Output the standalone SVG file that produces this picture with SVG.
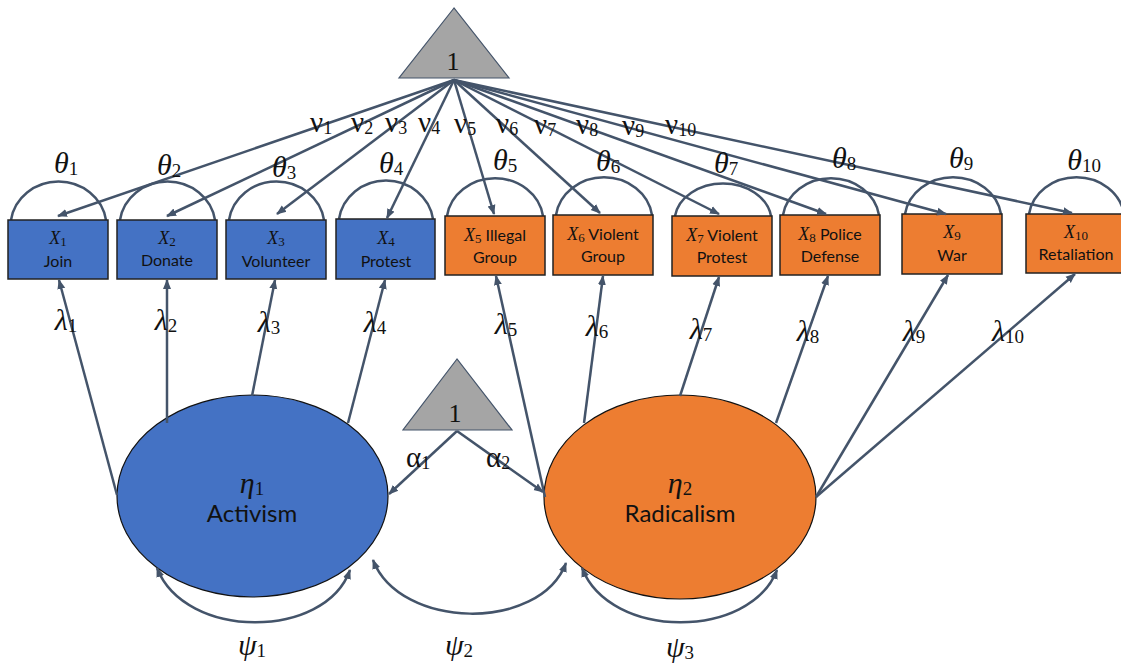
<svg xmlns="http://www.w3.org/2000/svg" width="1121" height="663" viewBox="0 0 1121 663">
<defs>
<style>
.conn{stroke:#44546a;stroke-width:2.5;fill:none;marker-end:url(#ah)}
.arc{stroke:#44546a;stroke-width:2.5;fill:none}
.psi{stroke:#44546a;stroke-width:2.5;fill:none;marker-start:url(#ah);marker-end:url(#ah)}
.bbox{stroke:#222;stroke-width:1.5}
.blue{fill:#4472c4}
.orange{fill:#ed7d31}
.tri{fill:#a5a5a5;stroke:#44546a;stroke-width:1.2}
.ell{stroke:#111;stroke-width:1.2}
.lbl{font-family:Lato,"Liberation Sans",sans-serif;font-size:16px;fill:#111;text-anchor:middle}
.xv{font-family:"Liberation Serif",serif;font-style:italic;font-size:18px}
.xs{font-family:"Liberation Serif",serif;font-style:normal;font-size:13px}
.gk{font-family:"Liberation Serif",serif;font-style:italic;font-size:30px;fill:#111;text-anchor:middle}
.sub{font-style:normal;font-size:19px}
.up{font-family:"Liberation Serif",serif;font-size:29px;fill:#111}
.us{font-size:18px}
.one{font-family:"Liberation Serif",serif;font-size:26px;fill:#111;text-anchor:middle}
.big{font-family:Lato,"Liberation Sans",sans-serif;font-size:24px;fill:#111;text-anchor:middle}
</style>
<marker id="ah" viewBox="0 0 10 10" refX="9" refY="5" markerWidth="10" markerHeight="10" markerUnits="userSpaceOnUse" orient="auto-start-reverse">
<path d="M0,1 L10,5 L0,9 z" fill="#44546a"/>
</marker>
</defs>
<rect width="1121" height="663" fill="#fff"/>

<g id="const_top">
<polygon class="tri" points="454,8 399,78 509,78"/>
<text class="one" x="453" y="70">1</text>
</g>
<g id="const_bottom">
<polygon class="tri" points="457,359 403,430 512,430"/>
<text class="one" x="455" y="422">1</text>
</g>

<g id="X1">
<path class="arc" d="M11,220 A48,45 0 0 1 106,220"/>
<rect class="bbox blue" x="8" y="220" width="100" height="59"/>
<text class="lbl" x="58" y="244"><tspan class="xv">X</tspan><tspan class="xs" dy="2">1</tspan></text>
<text class="lbl" x="58" y="267">Join</text>
</g>
<g id="X2">
<path class="arc" d="M120,220 A48,45 0 0 1 215,220"/>
<rect class="bbox blue" x="117" y="220" width="100" height="59"/>
<text class="lbl" x="167" y="244"><tspan class="xv">X</tspan><tspan class="xs" dy="2">2</tspan></text>
<text class="lbl" x="167" y="266">Donate</text>
</g>
<g id="X3">
<path class="arc" d="M229,220 A48,45 0 0 1 324,220"/>
<rect class="bbox blue" x="226" y="220" width="100" height="59"/>
<text class="lbl" x="276" y="244"><tspan class="xv">X</tspan><tspan class="xs" dy="2">3</tspan></text>
<text class="lbl" x="276" y="267">Volunteer</text>
</g>
<g id="X4">
<path class="arc" d="M339,219 A47.5,45 0 0 1 433,219"/>
<rect class="bbox blue" x="336" y="219" width="99" height="60"/>
<text class="lbl" x="386" y="244"><tspan class="xv">X</tspan><tspan class="xs" dy="2">4</tspan></text>
<text class="lbl" x="386" y="267">Protest</text>
</g>
<g id="X5">
<path class="arc" d="M447,216 A48.5,44 0 0 1 543,216"/>
<rect class="bbox orange" x="445" y="216" width="100" height="59"/>
<text class="lbl" x="495" y="241"><tspan class="xv">X</tspan><tspan class="xs" dy="2">5</tspan><tspan dy="-2"> Illegal</tspan></text>
<text class="lbl" x="495" y="263">Group</text>
</g>
<g id="X6">
<path class="arc" d="M556,215 A48.5,44 0 0 1 652,215"/>
<rect class="bbox orange" x="553" y="215" width="100" height="60"/>
<text class="lbl" x="603" y="240"><tspan class="xv">X</tspan><tspan class="xs" dy="2">6</tspan><tspan dy="-2"> Violent</tspan></text>
<text class="lbl" x="603" y="262">Group</text>
</g>
<g id="X7">
<path class="arc" d="M675,216 A48.5,38 0 0 1 771,216"/>
<rect class="bbox orange" x="672" y="216" width="100" height="60"/>
<text class="lbl" x="722" y="241"><tspan class="xv">X</tspan><tspan class="xs" dy="2">7</tspan><tspan dy="-2"> Violent</tspan></text>
<text class="lbl" x="722" y="263">Protest</text>
</g>
<g id="X8">
<path class="arc" d="M783,215 A48.5,43 0 0 1 879,215"/>
<rect class="bbox orange" x="780" y="215" width="100" height="60"/>
<text class="lbl" x="830" y="240"><tspan class="xv">X</tspan><tspan class="xs" dy="2">8</tspan><tspan dy="-2"> Police</tspan></text>
<text class="lbl" x="830" y="262">Defense</text>
</g>
<g id="X9">
<path class="arc" d="M905,214 A48.5,43 0 0 1 1001,214"/>
<rect class="bbox orange" x="902" y="214" width="100" height="60"/>
<text class="lbl" x="952" y="238"><tspan class="xv">X</tspan><tspan class="xs" dy="2">9</tspan></text>
<text class="lbl" x="952" y="261">War</text>
</g>
<g id="X10">
<path class="arc" d="M1029,214 A48,43 0 0 1 1124,214"/>
<rect class="bbox orange" x="1026" y="214" width="100" height="59"/>
<text class="lbl" x="1076" y="238"><tspan class="xv">X</tspan><tspan class="xs" dy="2">10</tspan></text>
<text class="lbl" x="1076" y="260">Retaliation</text>
</g>

<g id="eta1">
<ellipse class="ell blue" cx="252.5" cy="496" rx="135.5" ry="101"/>
<text class="gk" x="252" y="493">η<tspan class="sub" dy="2">1</tspan></text>
<text class="big" x="252" y="522">Activism</text>
</g>
<g id="eta2">
<ellipse class="ell orange" cx="680" cy="497" rx="136" ry="102"/>
<text class="gk" x="680" y="493">η<tspan class="sub" dy="2">2</tspan></text>
<text class="big" x="680" y="522">Radicalism</text>
</g>

<g id="connectors">
<line class="conn" x1="454" y1="80" x2="58" y2="216"/>
<line class="conn" x1="454" y1="80" x2="167" y2="216"/>
<line class="conn" x1="454" y1="80" x2="277" y2="214"/>
<line class="conn" x1="454" y1="80" x2="387" y2="218"/>
<line class="conn" x1="454" y1="80" x2="494" y2="214"/>
<line class="conn" x1="454" y1="80" x2="600" y2="213"/>
<line class="conn" x1="454" y1="80" x2="719" y2="214"/>
<line class="conn" x1="454" y1="80" x2="826" y2="214"/>
<line class="conn" x1="454" y1="80" x2="946" y2="214"/>
<line class="conn" x1="454" y1="80" x2="1072" y2="213"/>

<line class="conn" x1="117" y1="495" x2="59" y2="280"/>
<line class="conn" x1="167" y1="423" x2="167" y2="280"/>
<line class="conn" x1="252" y1="396" x2="275" y2="280"/>
<line class="conn" x1="348" y1="423" x2="385" y2="280"/>
<line class="conn" x1="545" y1="497" x2="496" y2="276"/>
<line class="conn" x1="584" y1="423" x2="603" y2="276"/>
<line class="conn" x1="680" y1="396" x2="719" y2="277"/>
<line class="conn" x1="776" y1="423" x2="828" y2="276"/>
<line class="conn" x1="816" y1="497" x2="948" y2="275"/>
<line class="conn" x1="816" y1="497" x2="1075" y2="274"/>

<line class="conn" x1="457" y1="431" x2="389" y2="494"/>
<line class="conn" x1="457" y1="431" x2="543" y2="492"/>

<path class="psi" d="M157,568 C185,640 325,640 350,570"/>
<path class="psi" d="M373,560 C400,630 540,632 566,563"/>
<path class="psi" d="M582,568 C610,640 750,640 777,570"/>
</g>

<g id="labels">
<text class="gk" x="66" y="173">θ<tspan class="sub" dy="2">1</tspan></text>
<text class="gk" x="169" y="175">θ<tspan class="sub" dy="2">2</tspan></text>
<text class="gk" x="284" y="177">θ<tspan class="sub" dy="2">3</tspan></text>
<text class="gk" x="391" y="173">θ<tspan class="sub" dy="2">4</tspan></text>
<text class="gk" x="505" y="170">θ<tspan class="sub" dy="2">5</tspan></text>
<text class="gk" x="608" y="171">θ<tspan class="sub" dy="2">6</tspan></text>
<text class="gk" x="726" y="173">θ<tspan class="sub" dy="2">7</tspan></text>
<text class="gk" x="844" y="168">θ<tspan class="sub" dy="2">8</tspan></text>
<text class="gk" x="961" y="168">θ<tspan class="sub" dy="2">9</tspan></text>
<text class="gk" x="1084" y="170">θ<tspan class="sub" dy="2">10</tspan></text>

<text class="up" x="310" y="132">ν<tspan class="us" dy="2">1</tspan></text>
<text class="up" x="351" y="132">ν<tspan class="us" dy="2">2</tspan></text>
<text class="up" x="385" y="132">ν<tspan class="us" dy="2">3</tspan></text>
<text class="up" x="418" y="132">ν<tspan class="us" dy="2">4</tspan></text>
<text class="up" x="454" y="133">ν<tspan class="us" dy="2">5</tspan></text>
<text class="up" x="496" y="133">ν<tspan class="us" dy="2">6</tspan></text>
<text class="up" x="534" y="134">ν<tspan class="us" dy="2">7</tspan></text>
<text class="up" x="576" y="134">ν<tspan class="us" dy="2">8</tspan></text>
<text class="up" x="622" y="135">ν<tspan class="us" dy="2">9</tspan></text>
<text class="up" x="665" y="134">ν<tspan class="us" dy="2">10</tspan></text>

<text class="gk" x="66" y="330">λ<tspan class="sub" dy="2">1</tspan></text>
<text class="gk" x="166" y="330">λ<tspan class="sub" dy="2">2</tspan></text>
<text class="gk" x="269" y="332">λ<tspan class="sub" dy="2">3</tspan></text>
<text class="gk" x="375" y="332">λ<tspan class="sub" dy="2">4</tspan></text>
<text class="gk" x="506" y="334">λ<tspan class="sub" dy="2">5</tspan></text>
<text class="gk" x="597" y="336">λ<tspan class="sub" dy="2">6</tspan></text>
<text class="gk" x="701" y="339">λ<tspan class="sub" dy="2">7</tspan></text>
<text class="gk" x="808" y="341">λ<tspan class="sub" dy="2">8</tspan></text>
<text class="gk" x="914" y="341">λ<tspan class="sub" dy="2">9</tspan></text>
<text class="gk" x="1008" y="341">λ<tspan class="sub" dy="2">10</tspan></text>

<text class="up" x="406" y="467">α<tspan class="us" dy="2">1</tspan></text>
<text class="up" x="486" y="467">α<tspan class="us" dy="2">2</tspan></text>

<text class="gk" x="252" y="655">ψ<tspan class="sub" dy="2">1</tspan></text>
<text class="gk" x="459" y="655">ψ<tspan class="sub" dy="2">2</tspan></text>
<text class="gk" x="680" y="657">ψ<tspan class="sub" dy="2">3</tspan></text>
</g>
</svg>
